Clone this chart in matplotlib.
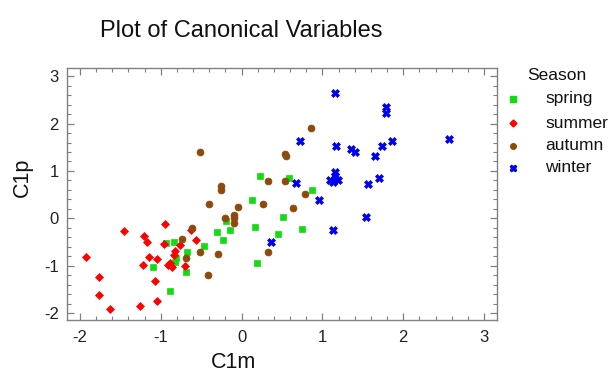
import matplotlib
matplotlib.use("Agg")
import matplotlib.pyplot as plt
from matplotlib.ticker import MultipleLocator
from matplotlib.lines import Line2D

plt.rcParams['font.family'] = ['Liberation Sans', 'DejaVu Sans']

spring_x = [-1.10, -0.93, -0.89, -0.84, -0.83, -0.81, -0.69, -0.67, -0.46, -0.31, -0.23,
            -0.19, -0.14, 0.13, 0.17, 0.19, 0.23, 0.45, 0.51, 0.59, 0.75, 0.87]
spring_y = [-1.03, -0.52, -1.52, -0.50, -0.92, -0.84, -1.12, -0.70, -0.58, -0.29, -0.45,
            -0.06, -0.24, 0.39, -0.18, -0.94, 0.89, -0.32, 0.04, 0.85, -0.22, 0.59]

summer_x = [-1.92, -1.77, -1.77, -1.63, -1.46, -1.26, -1.22, -1.21, -1.17, -1.14, -1.07, -1.05,
            -1.05, -0.95, -0.96, -0.91, -0.89, -0.86, -0.84, -0.83, -0.76, -0.70, -0.63, -0.56]
summer_y = [-0.82, -1.24, -1.62, -1.91, -0.27, -1.85, -0.99, -0.38, -0.49, -0.82, -1.31, -0.85,
            -1.73, -0.11, -0.53, -0.99, -0.94, -1.03, -0.76, -0.69, -0.55, -1.01, -0.25, -0.45]

autumn_x = [-0.51, -0.74, -0.69, -0.61, -0.52, -0.41, -0.40, -0.29, -0.26, -0.25, -0.21, -0.09,
            -0.09, -0.09, -0.05, 0.26, 0.33, 0.33, 0.54, 0.55, 0.54, 0.63, 0.79, 0.86]
autumn_y = [1.40, -0.44, -0.83, -0.20, -0.70, -1.20, 0.30, -0.75, 0.68, 0.59, 0.01, 0.08,
            0.01, -0.10, 0.25, 0.30, 0.79, -0.70, 1.35, 1.31, 0.79, 0.23, 0.51, 1.91]

winter_x = [1.15, 1.79, 1.79, 0.72, 1.17, 1.35, 1.40, 1.65, 1.74, 1.86, 2.57, 0.67,
            1.15, 1.10, 1.13, 1.16, 1.19, 1.15, 1.56, 1.70, 0.96, 1.54, 1.13, 0.37]
winter_y = [2.65, 2.35, 2.22, 1.63, 1.53, 1.47, 1.39, 1.31, 1.52, 1.63, 1.68, 0.75,
            0.98, 0.82, 0.77, 0.84, 0.80, 0.89, 0.73, 0.85, 0.39, 0.04, -0.25, -0.49]

seasons = ['spring', 'summer', 'autumn', 'winter']
xticks = [-2, -1, 0, 1, 2, 3]
yticks = [-2, -1, 0, 1, 2, 3]

W, H = 613, 374
fig = plt.figure(figsize=(W / 100, H / 100), dpi=100)
ax = fig.add_axes([67 / W, 1 - 320 / H, (497 - 67) / W, (320 - 68) / H])

styles = {
    'spring': dict(marker='s', color='#10dc10', ms=4.6),
    'summer': dict(marker='D', color='#ff0000', ms=4.4),
    'autumn': dict(marker='o', color='#8c4a0c', ms=5.0),
    'winter': dict(marker='X', color='#0000f0', ms=6.0),
}
data = {
    'spring': (spring_x, spring_y),
    'summer': (summer_x, summer_y),
    'autumn': (autumn_x, autumn_y),
    'winter': (winter_x, winter_y),
}
for s in seasons:
    st = styles[s]
    xs, ys = data[s]
    ax.plot(xs, ys, linestyle='none', marker=st['marker'], color=st['color'],
            markersize=st['ms'], markeredgewidth=0.5, markeredgecolor=st['color'])

ax.set_xlim(-2.16, 3.16)
ax.set_ylim(-2.14, 3.17)
ax.set_xticks(xticks)
ax.set_yticks(yticks)
ax.set_xticklabels([str(t) for t in xticks])
ax.set_yticklabels([str(t) for t in yticks])
ax.xaxis.set_minor_locator(MultipleLocator(0.2))
ax.yaxis.set_minor_locator(MultipleLocator(0.2))
ax.tick_params(which='both', direction='in', top=True, right=True, colors='#808080',
               labelcolor='#222222', labelsize=12)
ax.tick_params(which='major', length=5, width=0.9)
ax.tick_params(which='minor', length=3, width=0.8)
ax.tick_params(axis='x', pad=7)
ax.tick_params(axis='y', pad=6)
for sp in ax.spines.values():
    sp.set_color('#808080')
    sp.set_linewidth(1.0)

fig.text(241 / W, 1 - 31 / H, 'Plot of Canonical Variables', ha='center', va='center',
         fontsize=17, color='#111111')
fig.text(234 / W, 1 - 362 / H, 'C1m', ha='center', va='center', fontsize=15.5, color='#111111')
fig.text(22 / W, 1 - 177 / H, 'C1p', ha='center', va='center', rotation=90,
         fontsize=15.5, color='#111111')

# legend
fig.text(527 / W, 1 - 75 / H, 'Season', ha='left', va='center', fontsize=12.5, color='#111111')
leg_y = [99, 123, 146, 168]
for s, yy in zip(seasons, leg_y):
    st = styles[s]
    fig.add_artist(Line2D([513 / W], [1 - yy / H], marker=st['marker'], color=st['color'],
                          markersize=st['ms'] * 0.8, linestyle='none',
                          transform=fig.transFigure))
    fig.text(545 / W, 1 - yy / H, s, ha='left', va='center', fontsize=12.5, color='#111111')

fig.savefig('out.png', dpi=100)
